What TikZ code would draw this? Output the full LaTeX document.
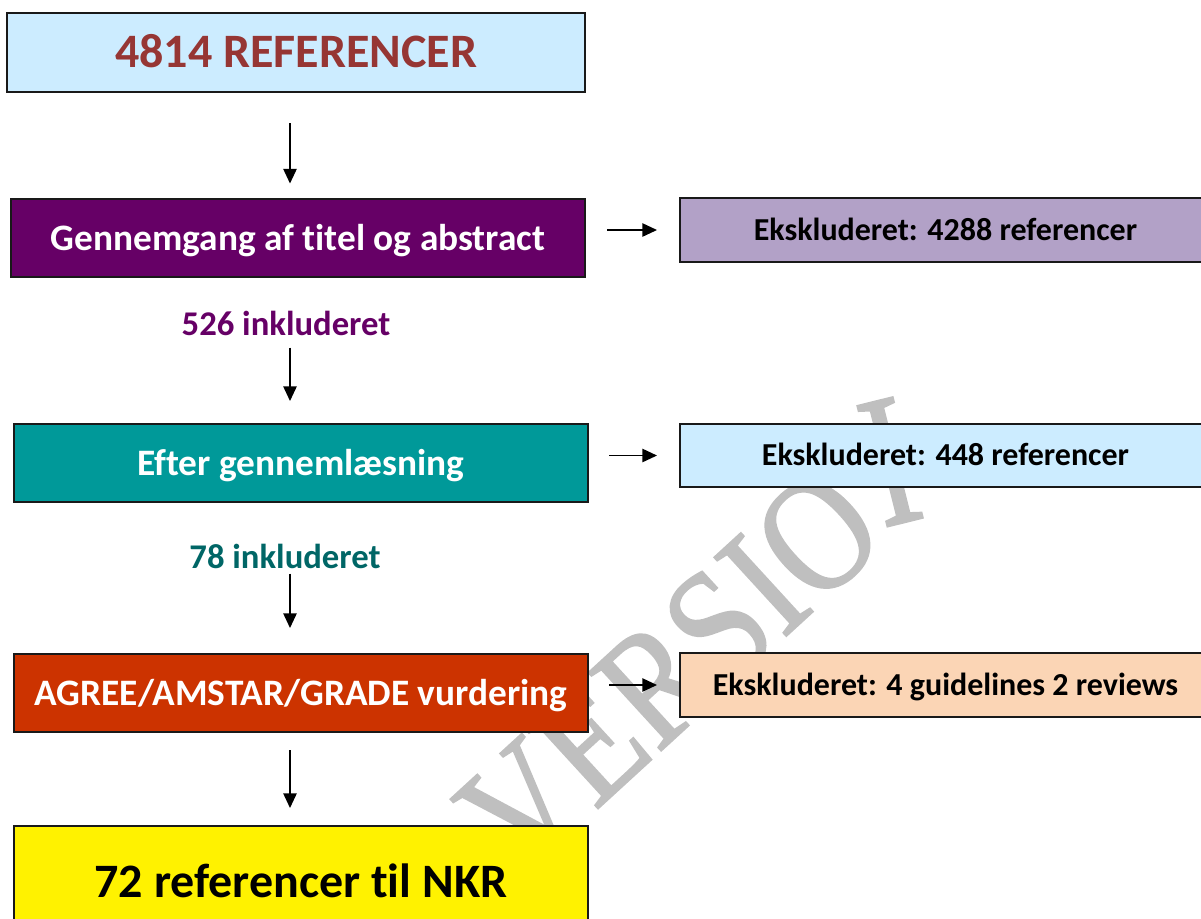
\documentclass[tikz,border=0pt]{standalone}
\usepackage{fontspec}
\setmainfont{Carlito}[Ligatures=NoCommon]
\newfontfamily\wmfont{Liberation Serif}[FakeBold=1.2]
\usetikzlibrary{arrows.meta}
\definecolor{boxblue}{RGB}{204,236,255}
\definecolor{refred}{RGB}{150,54,52}
\definecolor{plum}{RGB}{102,0,102}
\definecolor{lilac}{RGB}{178,161,199}
\definecolor{tealbox}{RGB}{0,153,153}
\definecolor{tealtext}{RGB}{0,102,102}
\definecolor{rust}{RGB}{204,51,0}
\definecolor{peach}{RGB}{251,213,181}
\definecolor{wmgray}{RGB}{191,191,191}
\tikzset{stage/.style={draw=black!90, line width=1.5pt, inner sep=0pt, minimum width=430.5pt, minimum height=58.5pt, text height=25pt, text depth=6pt, font=\bfseries\fontsize{28}{32}\selectfont, text=white},
  exbox/.style={draw=black!90, line width=1.5pt, inner sep=0pt, minimum width=398.25pt, minimum height=47.5pt, text height=15pt, text depth=0pt, font=\bfseries\fontsize{24}{28}\selectfont},
  count/.style={inner sep=0pt, font=\bfseries\fontsize{26}{30}\selectfont},
  mark text/.style={inner sep=0pt, transform shape, text=wmgray, font=\wmfont\fontsize{100}{100}\selectfont},
  arr/.style={black, line width=1.2pt, -{Triangle[length=11pt,width=10pt]}}}

\begin{document}
\begin{tikzpicture}[x=0.75pt, y=-0.75pt]
  \useasboundingbox (0,0) rectangle (1201,918);
  \clip (0,0) rectangle (1201,918);
  % watermark
  \begin{scope}[shift={(521,879)}, rotate=42.5, xscale=1.04, yscale=1.22]
   \node[mark text, anchor=base west] (wm) at (0,0) {VERSIO};
  \end{scope}
  \begin{scope}[shift={(905,522)}, rotate=14, xscale=1.05, yscale=1.42]
   \node[mark text, anchor=base] (wmend) at (0,0) {I};
  \end{scope}

  \node[stage, fill=boxblue, text=refred, minimum width=433.5pt, minimum height=59.25pt, text height=23pt, text depth=0pt, font=\bfseries\fontsize{36}{40}\selectfont] (refs) at (296,52.5) {4814 REFERENCER};
  \node[stage, fill=plum] (title) at (298,237.5) {Gennemgang af titel og abstract};
  \node[exbox, fill=lilac] (ex1) at (945.5,230) {Ekskluderet: 4288 referencer};
  \node[count, text=plum] (inc1) at (286,323) {526 inkluderet};
  \node[stage, fill=tealbox] (read) at (301,463) {Efter gennemlæsning};
  \node[exbox, fill=boxblue] (ex2) at (945.5,455.5) {Ekskluderet: 448 referencer};
  \node[count, text=tealtext] (inc2) at (285,556) {78 inkluderet};
  \node[stage, fill=rust] (grade) at (301,693) {AGREE/AMSTAR/GRADE vurdering};
  \node[exbox, fill=peach] (ex3) at (945.5,685) {Ekskluderet: 4 guidelines 2 reviews};
  \node[stage, fill=yellow, text=black, minimum height=84pt, text height=22.5pt, text depth=0pt, font=\bfseries\fontsize{36}{40}\selectfont] (nkr) at (301,882) {72 referencer til NKR};

  % arrows
  \coordinate (col) at (290,0);
  \draw[arr, shorten <=22.5pt, shorten >=10.5pt] (refs.south -| col) -- (title.north -| col);
  \draw[arr, shorten <=9pt, shorten >=16.5pt] (inc1.south -| col) -- (read.north -| col);
  \draw[arr, shorten <=3.75pt, shorten >=18.75pt] (inc2.south -| col) -- (grade.north -| col);
  \draw[arr, shorten <=12.75pt, shorten >=12.75pt] (grade.south -| col) -- (nkr.north -| col);
  \draw[arr, shorten <=16pt, shorten >=16.5pt] (title.east |- ex1.west) -- (ex1.west);
  \draw[arr, shorten <=15pt, shorten >=16.5pt] (read.east |- ex2.west) -- (ex2.west);
  \draw[arr, shorten <=15pt, shorten >=16.5pt] (grade.east |- ex3.west) -- (ex3.west);
\end{tikzpicture}
\end{document}
